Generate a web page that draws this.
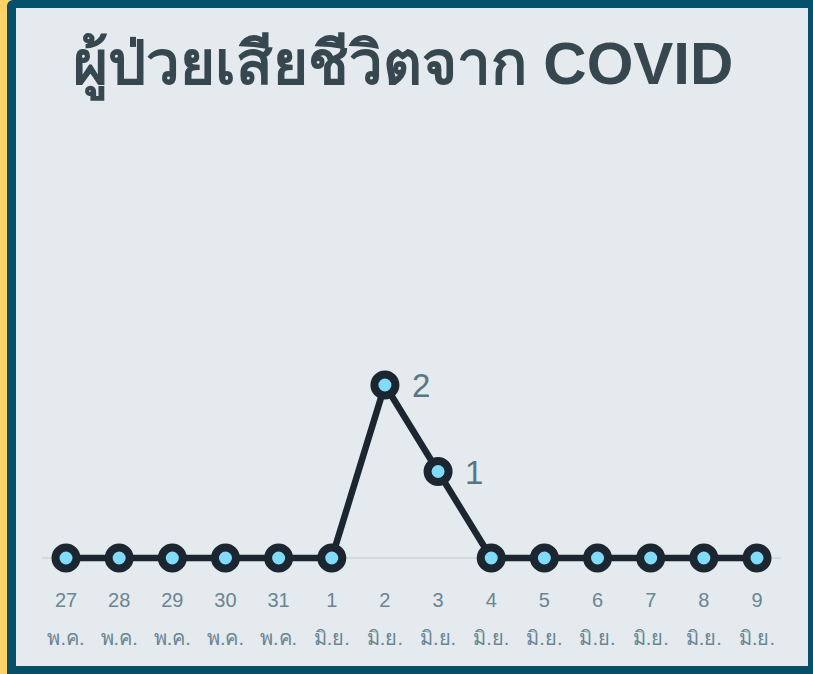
<!DOCTYPE html>
<html>
<head>
<meta charset="utf-8">
<script src="https://cdn.jsdelivr.net/npm/d3@7"></script>
<style>
  html, body { margin: 0; padding: 0; background: #ffd166; }
  body { width: 813px; height: 674px; overflow: hidden; }
  #card {
    position: absolute; left: 7px; top: 0; width: 792px; height: 658px;
    background: #e4eaed; border: solid #054f6b;
    border-width: 8px 5px 8px 9px; border-radius: 6px 0 0 0;
  }
  text { font-family: "Liberation Sans", Arial, sans-serif; }
</style>
</head>
<body>
<div id="card"></div>
<script>
var days = ["27", "28", "29", "30", "31", "1", "2", "3", "4", "5", "6", "7", "8", "9"];
var months = ["พ.ค.", "พ.ค.", "พ.ค.", "พ.ค.", "พ.ค.", "มิ.ย.", "มิ.ย.", "มิ.ย.", "มิ.ย.", "มิ.ย.", "มิ.ย.", "มิ.ย.", "มิ.ย.", "มิ.ย."];
var deaths = [0, 0, 0, 0, 0, 0, 2, 1, 0, 0, 0, 0, 0, 0];

var width = 813;
var height = 674;

var data = days.map(function(d, i) {
  return { day: d, month: months[i], value: deaths[i] };
});

var svg = d3
  .select("body")
  .append("svg")
  .attr("width", width)
  .attr("height", height)
  .style("position", "absolute")
  .style("left", 0)
  .style("top", 0);

var x = d3
  .scalePoint()
  .domain(d3.range(days.length))
  .range([66, 757]);

var y = d3
  .scaleLinear()
  .domain([0, 2])
  .range([558, 385]);

svg
  .append("text")
  .attr("x", 403)
  .attr("y", 84)
  .attr("text-anchor", "middle")
  .attr("font-size", 60)
  .attr("font-weight", "bold")
  .attr("fill", "#37474f")
  .text("ผู้ป่วยเสียชีวิตจาก COVID");

// baseline grid
svg
  .append("line")
  .attr("x1", 42)
  .attr("x2", 781)
  .attr("y1", y(0))
  .attr("y2", y(0))
  .attr("stroke", "#d3dadd")
  .attr("stroke-width", 2);

var line = d3
  .line()
  .x(function(d, i) { return x(i); })
  .y(function(d) { return y(d.value); });

svg
  .append("path")
  .datum(data)
  .attr("d", line)
  .attr("fill", "none")
  .attr("stroke", "#1b2630")
  .attr("stroke-width", 6.5)
  .attr("stroke-linejoin", "round");

svg
  .selectAll(".dot")
  .data(data)
  .enter()
  .append("circle")
  .attr("class", "dot")
  .attr("cx", function(d, i) { return x(i); })
  .attr("cy", function(d) { return y(d.value); })
  .attr("r", 10.5)
  .attr("fill", "#80dcfa")
  .attr("stroke", "#1b2630")
  .attr("stroke-width", 8);

svg
  .selectAll(".val")
  .data(data.filter(function(d) { return d.value > 0; }))
  .enter()
  .append("text")
  .attr("class", "val")
  .attr("x", function(d) { return x(data.indexOf(d)) + 27; })
  .attr("y", function(d) { return y(d.value) + 12; })
  .attr("font-size", 33)
  .attr("fill", "#5a7582")
  .text(function(d) { return d.value; });

var ticks = svg
  .selectAll(".tick")
  .data(data)
  .enter()
  .append("g")
  .attr("class", "tick")
  .attr("transform", function(d, i) { return "translate(" + x(i) + ",0)"; });

ticks
  .append("text")
  .attr("y", 607)
  .attr("text-anchor", "middle")
  .attr("font-size", 20)
  .attr("fill", "#6a8593")
  .text(function(d) { return d.day; });

ticks
  .append("text")
  .attr("y", 645)
  .attr("text-anchor", "middle")
  .attr("font-size", 20)
  .attr("fill", "#6a8593")
  .text(function(d) { return d.month; });
</script>
</body>
</html>
